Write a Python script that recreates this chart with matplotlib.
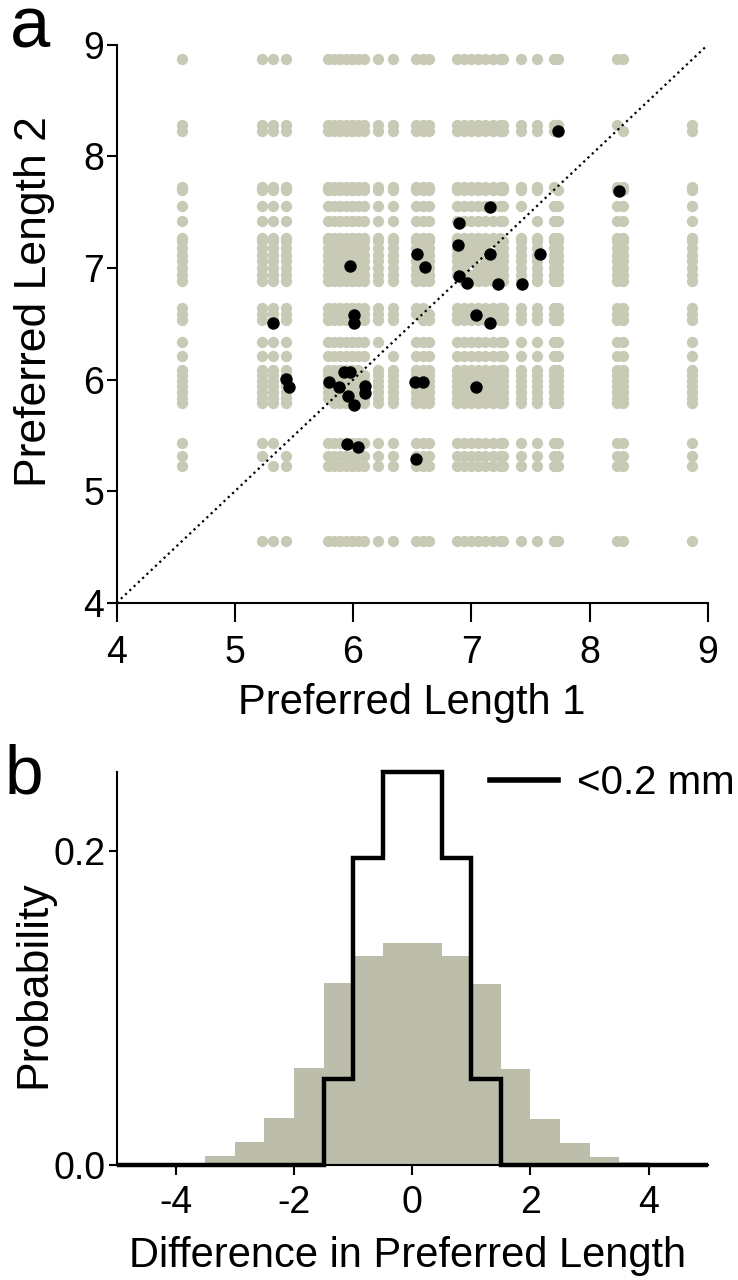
import numpy as np
import matplotlib
matplotlib.use("Agg")
import matplotlib.pyplot as plt

# DATA
# preferred lengths of all cells (grey = every ordered pair of different cells)
cellLengths = [4.55, 5.23, 5.32, 5.43, 5.79, 5.84, 5.89, 5.94, 5.99, 6.04, 6.09,
               6.21, 6.34, 6.53, 6.59, 6.64, 6.88, 6.94, 7.00, 7.06, 7.12, 7.18,
               7.24, 7.27, 7.42, 7.56, 7.70, 7.73, 8.23, 8.28, 8.87]

# pairs of neighbouring cells (black dots)
nearLength1 = [7.73, 8.25, 7.16, 6.90, 6.89, 6.54, 6.61, 7.16, 7.58, 6.90, 6.96,
               7.23, 7.43, 7.04, 7.16, 5.97, 5.32, 6.01, 6.01, 5.43, 5.46, 5.95,
               6.04, 6.53, 6.52, 6.59, 7.04, 5.80, 5.88, 5.92, 5.97, 5.96, 6.01,
               6.10, 6.10]
nearLength2 = [8.23, 7.69, 7.55, 7.40, 7.21, 7.13, 7.01, 7.13, 7.13, 6.93, 6.87,
               6.86, 6.86, 6.58, 6.51, 7.02, 6.51, 6.58, 6.51, 6.01, 5.93, 5.42,
               5.40, 5.29, 5.98, 5.98, 5.93, 5.98, 5.93, 6.07, 6.07, 5.85, 5.77,
               5.94, 5.88]

# histogram of differences, bins of 0.5 from -5 to 5
diffEdges = [-5.0, -4.5, -4.0, -3.5, -3.0, -2.5, -2.0, -1.5, -1.0, -0.5, 0.0,
             0.5, 1.0, 1.5, 2.0, 2.5, 3.0, 3.5, 4.0, 4.5, 5.0]
allProb = [0, 0, 0.001, 0.006, 0.0145, 0.030, 0.062, 0.116, 0.133, 0.141,
           0.141, 0.133, 0.115, 0.061, 0.029, 0.014, 0.005, 0.002, 0, 0]
nearProb = [0, 0, 0, 0, 0, 0, 0, 0.055, 0.195, 0.25,
            0.25, 0.195, 0.055, 0, 0, 0, 0, 0, 0, 0]

greyDot = '#c8cab6'
greyBar = '#bcbeab'

plt.rcParams['font.family'] = ['Liberation Sans', 'DejaVu Sans']
plt.rcParams['axes.unicode_minus'] = False

fig = plt.figure(figsize=(7.38, 12.8), dpi=100)

# ---- panel a ----
axA = fig.add_axes([0.158, 0.529, 0.801, 0.436])
gx = []
gy = []
for i, a in enumerate(cellLengths):
	for j, b in enumerate(cellLengths):
		if i != j:
			gx.append(a)
			gy.append(b)
axA.scatter(gx, gy, s=66, color=greyDot, linewidths=0, zorder=1)
axA.plot([4, 9], [4, 9], color='black', linestyle=':', linewidth=1.6, zorder=2)
axA.scatter(nearLength1, nearLength2, s=80, color='black', linewidths=0, zorder=3)

axA.set_xlim(4, 9)
axA.set_ylim(4, 9)
axA.set_xticks([4, 5, 6, 7, 8, 9])
axA.set_yticks([4, 5, 6, 7, 8, 9])
for s in ['top', 'right']:
	axA.spines[s].set_visible(False)
for s in ['left', 'bottom']:
	axA.spines[s].set_linewidth(1.5)
axA.tick_params(axis='x', direction='out', length=14, width=1.5, labelsize=27, pad=9)
axA.tick_params(axis='y', direction='out', length=7, width=1.5, labelsize=27, pad=2)
axA.set_xlabel('Preferred Length 1', fontsize=30, va='top')
axA.set_ylabel('Preferred Length 2', fontsize=32)
axA.xaxis.set_label_coords(0.5, -0.143)
axA.yaxis.set_label_coords(-0.105, 0.54)

# ---- panel b ----
axB = fig.add_axes([0.158, 0.0898, 0.801, 0.3071])
axB.stairs(allProb, diffEdges, fill=True, color=greyBar, linewidth=0, zorder=1)
axB.stairs(nearProb, diffEdges, baseline=None, color='black', linewidth=3.2,
           zorder=3, clip_on=False, label='<0.2 mm')

axB.set_xlim(-5, 5)
axB.set_ylim(0, 0.25)
axB.set_xticks([-4, -2, 0, 2, 4])
axB.set_yticks([0.0, 0.2])
axB.set_yticklabels(['0.0', '0.2'])
for s in ['top', 'right']:
	axB.spines[s].set_visible(False)
for s in ['left', 'bottom']:
	axB.spines[s].set_linewidth(1.5)
axB.tick_params(axis='x', direction='out', length=7, width=1.5, labelsize=27, pad=7)
axB.tick_params(axis='y', direction='out', length=6, width=1.5, labelsize=27, pad=2)
axB.set_xlabel('Difference in Preferred Length', fontsize=30, va='top')
axB.set_ylabel('Probability', fontsize=32)
axB.xaxis.set_label_coords(0.493, -0.18)
axB.yaxis.set_label_coords(-0.105, 0.46)

fig.legend(handles=[plt.Line2D([], [], color='black', linewidth=4)], labels=['<0.2 mm'],
           loc='center left', bbox_to_anchor=(490 / 738, 1 - 783 / 1280),
           frameon=False, fontsize=29, handlelength=1.7, handletextpad=0.45,
           borderpad=0, borderaxespad=0)

fig.text(10 / 738, 1 - 48 / 1280, 'a', fontsize=52, va='baseline')
fig.text(5 / 738, 1 - 793 / 1280, 'b', fontsize=50, va='baseline')

fig.savefig('out.png', dpi=100, facecolor='white')
